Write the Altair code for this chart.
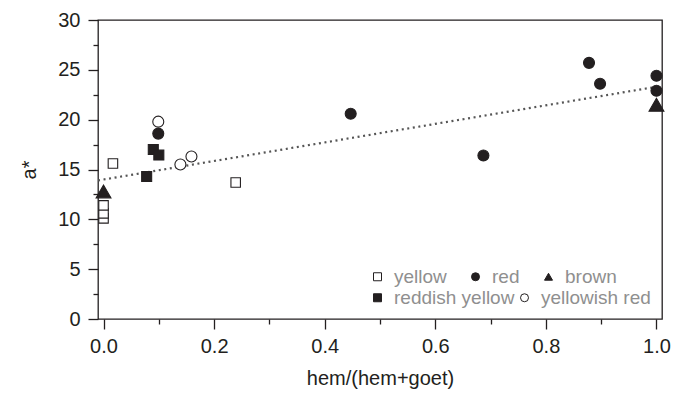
import altair as alt
import pandas as pd

# ---- data ----
types = ["yellow", "red", "brown", "reddish yellow", "yellowish red"]

yellow_x = [0.0, 0.0, 0.0, 0.017, 0.239]
yellow_y = [10.1, 10.6, 11.4, 15.6, 13.7]

red_x = [0.099, 0.447, 0.687, 0.878, 0.898, 1.0, 1.0]
red_y = [18.6, 20.6, 16.4, 25.7, 23.6, 24.4, 22.9]

brown_x = [0.0, 1.0]
brown_y = [12.8, 21.5]

reddish_yellow_x = [0.078, 0.09, 0.1]
reddish_yellow_y = [14.3, 17.0, 16.45]

yellowish_red_x = [0.099, 0.139, 0.159]
yellowish_red_y = [19.8, 15.5, 16.3]

trend_x = [-0.01, 1.0]
trend_y = [13.9, 23.3]

x_ticks = [0.0, 0.1, 0.2, 0.3, 0.4, 0.5, 0.6, 0.7, 0.8, 0.9, 1.0]
y_ticks = [0, 2.5, 5, 7.5, 10, 12.5, 15, 17.5, 20, 22.5, 25, 27.5, 30]

# ---- tables ----
rows = []
for name, xs, ys in [
    ("yellow", yellow_x, yellow_y),
    ("red", red_x, red_y),
    ("brown", brown_x, brown_y),
    ("reddish yellow", reddish_yellow_x, reddish_yellow_y),
    ("yellowish red", yellowish_red_x, yellowish_red_y),
]:
    for xv, yv in zip(xs, ys):
        rows.append({"x": xv, "y": yv, "type": name})
points = pd.DataFrame(rows)
trend = pd.DataFrame({"x": trend_x, "y": trend_y})

INK = "#231f20"
FONT = "Liberation Sans"

shape_of = {"yellow": "square", "red": "circle", "brown": "triangle-up",
            "reddish yellow": "square", "yellowish red": "circle"}
fill_of = {"yellow": "white", "red": INK, "brown": INK,
           "reddish yellow": INK, "yellowish red": "white"}

x_enc = alt.X("x:Q", title="hem/(hem+goet)",
              scale=alt.Scale(domain=[-0.01, 1.01], nice=False, zero=False),
              axis=alt.Axis(values=x_ticks, format=".1f",
                            labelExpr="round(datum.value*10) % 2 === 0 ? datum.label : ''",
                            tickSize={"condition": {"test": "round(datum.value*10) % 2 === 0", "value": 10}, "value": 5},
                            labelPadding=7, titleY=65, titleBaseline="alphabetic",
                            domain=False, grid=False))
y_enc = alt.Y("y:Q", title="a*",
              scale=alt.Scale(domain=[0, 30], nice=False),
              axis=alt.Axis(values=y_ticks,
                            labelExpr="datum.value % 5 === 0 ? datum.label : ''",
                            tickSize={"condition": {"test": "datum.value % 5 === 0", "value": 10}, "value": 5},
                            labelPadding=8, titleX=-63, titleY=149.5, titleAngle=270,
                            titleBaseline="alphabetic", titleAlign="center",
                            domain=False, grid=False))

line = alt.Chart(trend).mark_line(color="#555555", strokeWidth=2.2,
                                  strokeDash=[2, 3.6], clip=True).encode(x=x_enc, y=y_enc)

size_enc = alt.when(alt.datum.type == "brown").then(alt.value(220)).when(
    alt.datum.type == "yellow").then(alt.value(90)).when(
    alt.datum.type == "reddish yellow").then(alt.value(100)).otherwise(alt.value(121))


def group_layer(group, lx, ly, colpad):
    leg = alt.Legend(orient="none", legendX=lx, legendY=ly,
                     direction="horizontal", columnPadding=colpad,
                     labelColor="#8f8f8f", labelFontSize=19, labelFont=FONT,
                     labelOffset=7, symbolSize=64, symbolStrokeColor=INK,
                     symbolStrokeWidth=1, padding=0)
    return alt.Chart(points).transform_filter(
        alt.FieldOneOfPredicate(field="type", oneOf=group)
    ).mark_point(filled=True, opacity=1, strokeWidth=1.1).encode(
        x=x_enc, y=y_enc,
        shape=alt.Shape("type:N", title="", scale=alt.Scale(domain=group, range=[shape_of[g] for g in group]), legend=leg),
        fill=alt.Fill("type:N", title="", scale=alt.Scale(domain=group, range=[fill_of[g] for g in group]), legend=leg),
        stroke=alt.Stroke("type:N", title="", scale=alt.Scale(domain=group, range=[INK for g in group]), legend=leg),
        size=size_enc,
    )


g1 = group_layer(types[:3], 270, 247, 19)
g2 = group_layer(types[3:], 270, 268, 0)

chart = alt.layer(line, g1, g2).resolve_scale(
    shape="independent", fill="independent", stroke="independent"
).properties(
    width=564, height=299,
    autosize=alt.AutoSizeParams(type="none"),
    padding={"left": 90, "top": 12, "right": 15, "bottom": 72},
).configure_view(
    stroke=INK, strokeWidth=1.3
).configure_axis(
    labelFont=FONT, labelFontSize=20, labelColor=INK,
    titleFont=FONT, titleFontSize=20, titleColor=INK, titleFontWeight="normal",
    tickColor=INK, tickWidth=1.3
).configure_legend(
    labelFont=FONT, symbolStrokeColor=INK, symbolStrokeWidth=1
)

chart.save("out.html", embed_options={"renderer": "svg", "actions": False})
